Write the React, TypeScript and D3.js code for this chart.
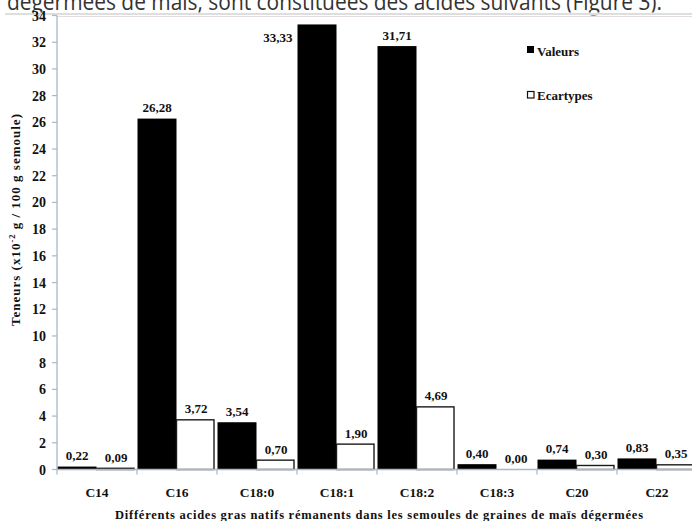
import React from "react";
import * as d3 from "d3";

const categories = ["C14", "C16", "C18:0", "C18:1", "C18:2", "C18:3", "C20", "C22"];
const valeurs = [0.22, 26.28, 3.54, 33.33, 31.71, 0.4, 0.74, 0.83];
const ecartypes = [0.09, 3.72, 0.7, 1.9, 4.69, 0.0, 0.3, 0.35];
const yTicks = d3.range(0, 35, 2);
const seriesNames = ["Valeurs", "Ecartypes"];
const captionText = "dégermées de maïs, sont constituées des acides suivants (Figure 3).";
const xTitle = "Différents acides gras natifs rémanents dans les semoules de graines de maïs dégermées";

const W = 692;
const H = 521;
const left = 57;
const top = 15.5;
const bottom = 469.5;
const bandW = 80;

const serif = "Liberation Serif, Times New Roman, serif";
const fmt = (v: number) => d3.format(".2f")(v).replace(".", ",");

export default function App() {
  const x = d3
    .scaleBand<string>()
    .domain(categories)
    .range([left, left + bandW * categories.length])
    .paddingInner(0)
    .paddingOuter(0);
  const y = d3.scaleLinear().domain([0, 34]).range([bottom, top]);
  const axisColor = "#a7b8c9";
  const barW = 39;

  const bars: React.ReactNode[] = [];
  const labels: React.ReactNode[] = [];
  categories.forEach((c, i) => {
    const b0 = x(c)!;
    const series = [valeurs[i], ecartypes[i]];
    series.forEach((v, s) => {
      const bx = b0 + 0.5 + s * barW;
      const ty = y(v);
      if (s === 0) {
        bars.push(
          <rect key={`b${i}${s}`} x={bx} y={ty} width={barW} height={bottom - ty} fill="#000" />
        );
      } else {
        bars.push(
          <rect
            key={`b${i}${s}`}
            x={bx}
            y={ty}
            width={barW - 1.5}
            height={bottom - ty}
            fill="#fff"
            stroke="#1a1a1a"
            strokeWidth={1.4}
          />
        );
      }
      const above = ty - 6.5 > top + 8;
      labels.push(
        <text
          key={`l${i}${s}`}
          x={above ? bx + barW / 2 : bx - 5}
          y={above ? ty - 6.5 : ty + 18}
          textAnchor={above ? "middle" : "end"}
          fontFamily={serif}
          fontWeight="bold"
          fontSize={13}
          fill="#111"
        >
          {fmt(v)}
        </text>
      );
    });
  });

  return (
    <svg
      width={W}
      height={H}
      style={{ position: "absolute", left: 0, top: 0, background: "#fff" }}
    >
      <rect x={0} y={0} width={W} height={H} fill="#fff" />
      {/* cropped caption text from surrounding document */}
      <text
        x={7}
        y={10}
        fontFamily="Open Sans, DejaVu Sans, sans-serif"
        fontSize={24}
        fill="#333"
        textLength={655}
        lengthAdjust="spacingAndGlyphs"
      >
        {captionText}
      </text>
      <rect x={0} y={12.5} width={W} height={3} fill="#fff" />
      <line x1={5} x2={W} y1={14} y2={14} stroke="#bdbdbd" strokeWidth={1.2} />
      {/* plot area top border */}
      <line x1={left} x2={W} y1={top + 1} y2={top + 1} stroke="#e3dcdc" strokeWidth={1} />

      {bars}

      {/* axes */}
      <line x1={left} x2={left} y1={top} y2={bottom} stroke={axisColor} strokeWidth={1.3} />
      <line x1={left} x2={W} y1={bottom} y2={bottom} stroke={axisColor} strokeWidth={1.3} />
      {yTicks.map((t) => (
        <g key={`yt${t}`}>
          <line x1={left - 5} x2={left} y1={y(t)} y2={y(t)} stroke={axisColor} strokeWidth={1.2} />
          <text
            x={46}
            y={y(t) + 5}
            textAnchor="end"
            fontFamily={serif}
            fontWeight="bold"
            fontSize={14}
            fill="#111"
          >
            {t}
          </text>
        </g>
      ))}
      {categories.map((c, i) => (
        <line
          key={`xt${i}`}
          x1={x(c)!}
          x2={x(c)!}
          y1={bottom}
          y2={bottom + 5}
          stroke={axisColor}
          strokeWidth={1.2}
        />
      ))}
      {categories.map((c) => (
        <text
          key={`xl${c}`}
          x={x(c)! + bandW / 2}
          y={496.5}
          textAnchor="middle"
          fontFamily={serif}
          fontWeight="bold"
          fontSize={13.5}
          fill="#111"
        >
          {c}
        </text>
      ))}

      {labels}

      {/* axis titles */}
      <text
        x={379}
        y={519}
        textAnchor="middle"
        fontFamily={serif}
        fontWeight="bold"
        fontSize={12.5}
        fill="#111"
        textLength={528}
        lengthAdjust="spacing"
      >
        {xTitle}
      </text>
      <text
        transform={`translate(20, 220) rotate(-90)`}
        textAnchor="middle"
        fontFamily={serif}
        fontWeight="bold"
        fontSize={13}
        fill="#111"
        textLength={212}
        lengthAdjust="spacing"
      >
        Teneurs (x10
        <tspan fontSize={8.5} dy={-5}>
          -2
        </tspan>
        <tspan dy={5}> g /  100 g semoule)</tspan>
      </text>

      {/* legend */}
      <rect x={527} y={46} width={7} height={7} fill="#000" />
      <text x={537} y={55.5} fontFamily={serif} fontWeight="bold" fontSize={13} fill="#111">
        {seriesNames[0]}
      </text>
      <rect x={527.5} y={91.5} width={6.5} height={6.5} fill="#fff" stroke="#111" strokeWidth={1.2} />
      <text x={537} y={100} fontFamily={serif} fontWeight="bold" fontSize={13} fill="#111">
        {seriesNames[1]}
      </text>
    </svg>
  );
}
